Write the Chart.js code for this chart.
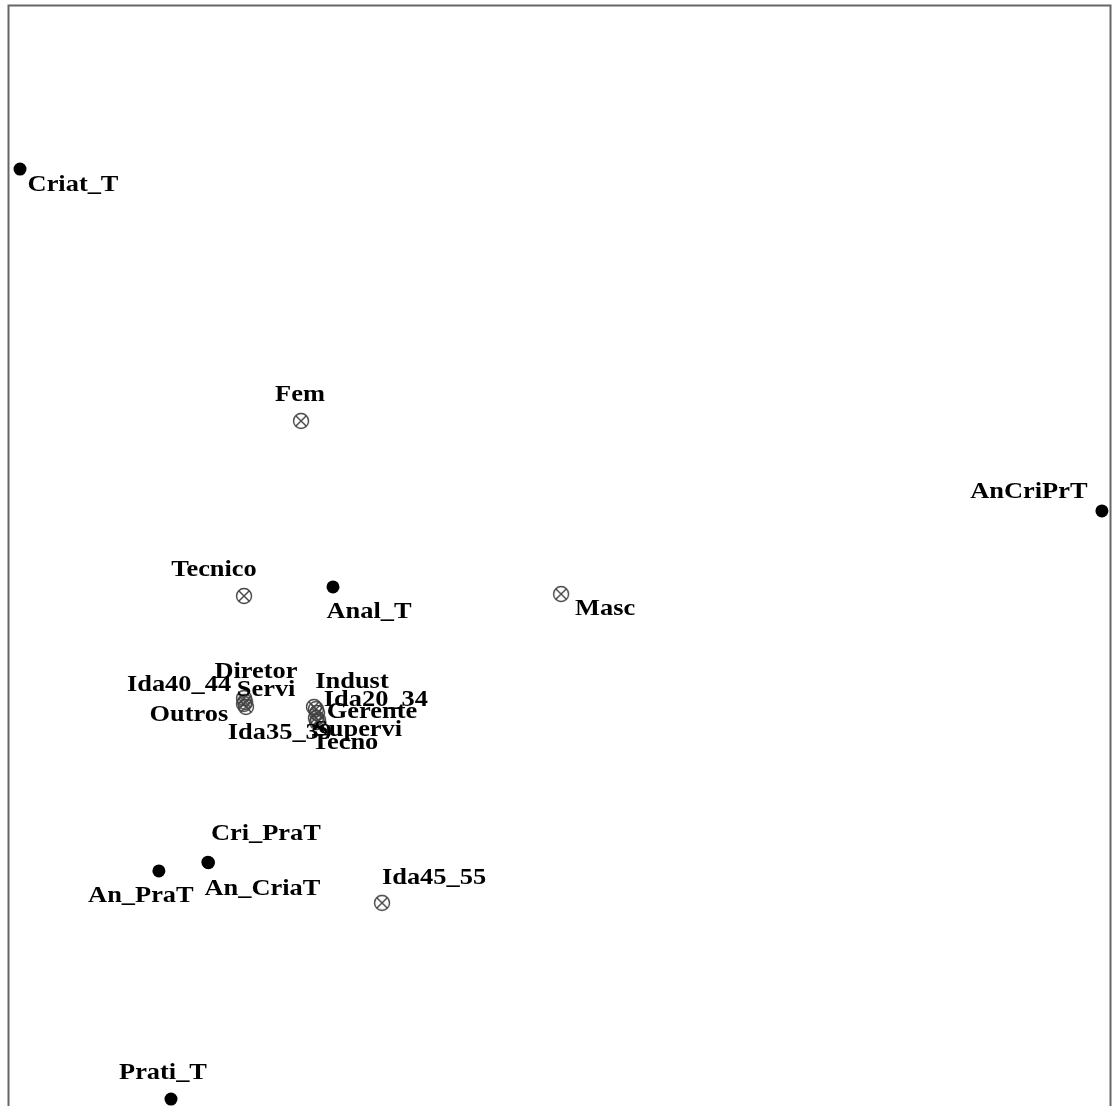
<!DOCTYPE html>
<html>
<head>
<meta charset="utf-8">
<script src="https://cdn.jsdelivr.net/npm/chart.js@4/dist/chart.umd.min.js"></script>
<style>
  html, body { margin: 0; padding: 0; background: #fff; overflow: hidden; }
  canvas { display: block; }
</style>
</head>
<body>
<canvas id="mca" width="1112" height="1106"></canvas>
<script>
// active categories (filled dots)
const actLabels = ["Criat_T", "AnCriPrT", "Anal_T", "Cri_PraT", "An_CriaT", "An_PraT", "Prati_T"];
const actX = [-0.960, 2.967, 0.176, -0.278, -0.276, -0.456, -0.412];
const actY = [2.404, 1.162, 0.886, -0.114, -0.116, -0.146, -0.975];

// supplementary categories (circle with cross)
const supLabels = ["Fem", "Tecnico", "Masc", "Ida45_55", "Diretor", "Servi", "Ida40_44", "Outros",
                   "Indust", "Ida20_34", "Gerente", "Ida35_39", "Supervi", "Tecno"];
const supX = [0.060, -0.147, 1.004, 0.354, -0.147, -0.143, -0.147, -0.140,
              0.107, 0.114, 0.118, 0.114, 0.122, 0.118];
const supY = [1.489, 0.853, 0.860, -0.262, 0.482, 0.468, 0.461, 0.450,
              0.450, 0.442, 0.428, 0.410, 0.402, 0.395];

// label placement (pixel offset of text centre from the point)
const actOffsets = [[53, 16], [-73, -19], [36, 25], [58, -28], [54, 26], [-18, 25], [-8, -26]];
const supOffsets = [[-1, -26], [-30, -26], [44, 15], [52, -25], [12, -26], [21, -12], [-65, -19], [-57, 8],
                    [38, -25], [60, -9], [55, -1], [-36, 15], [40, 10], [28, 21]];

const FONT = "bold 24px 'Liberation Serif', 'Times New Roman', serif";

// circle-with-cross marker
function crossCircle() {
  const c = document.createElement("canvas");
  c.width = 20; c.height = 20;
  const g = c.getContext("2d");
  g.strokeStyle = "#444";
  g.lineWidth = 1.4;
  g.beginPath();
  g.arc(10, 10, 7.5, 0, Math.PI * 2);
  g.stroke();
  const d = 7.5 * Math.SQRT1_2;
  g.beginPath();
  g.moveTo(10 - d, 10 - d); g.lineTo(10 + d, 10 + d);
  g.moveTo(10 + d, 10 - d); g.lineTo(10 - d, 10 + d);
  g.stroke();
  return c;
}

const labelPlugin = {
  id: "pointLabels",
  afterDatasetsDraw(chart) {
    const ctx = chart.ctx;
    ctx.save();
    ctx.font = FONT;
    ctx.fillStyle = "#000";
    ctx.textAlign = "center";
    ctx.textBaseline = "middle";
    chart.data.datasets.forEach((ds, i) => {
      const meta = chart.getDatasetMeta(i);
      meta.data.forEach((el, j) => {
        const off = ds.offsets[j];
        ctx.save();
        ctx.translate(el.x + off[0], el.y + off[1]);
        ctx.scale(1.1, 1);
        ctx.fillText(ds.names[j], 0, 0);
        ctx.restore();
      });
    });
    ctx.restore();
  }
};

const framePlugin = {
  id: "frame",
  afterDraw(chart) {
    const a = chart.chartArea;
    const ctx = chart.ctx;
    ctx.save();
    ctx.strokeStyle = "#666";
    ctx.lineWidth = 2;
    ctx.strokeRect(a.left - 0.5, a.top + 0.5, a.right - a.left, a.bottom - a.top + 10);
    ctx.restore();
  }
};

function draw() {
  new Chart(document.getElementById("mca"), {
    type: "scatter",
    data: {
      datasets: [
        {
          label: "Ativas",
          data: actX.map((x, i) => ({ x: x, y: actY[i] })),
          names: actLabels,
          offsets: actOffsets,
          pointStyle: "circle",
          pointRadius: 6.5,
          backgroundColor: "#000",
          borderColor: "#000",
          borderWidth: 0,
          clip: false
        },
        {
          label: "Suplementares",
          data: supX.map((x, i) => ({ x: x, y: supY[i] })),
          names: supLabels,
          offsets: supOffsets,
          pointStyle: crossCircle(),
          pointRadius: 8,
          clip: false
        }
      ]
    },
    options: {
      responsive: false,
      animation: false,
      events: [],
      layout: { autoPadding: false, padding: { left: 9, top: 5, right: 1, bottom: 0 } },
      scales: {
        x: { type: "linear", min: -1, max: 3, display: false },
        y: { type: "linear", min: -1, max: 3, display: false }
      },
      plugins: {
        legend: { display: false },
        tooltip: { enabled: false }
      }
    },
    plugins: [labelPlugin, framePlugin]
  });
}

if (document.fonts && document.fonts.load) {
  document.fonts.load(FONT).then(draw, draw);
} else {
  draw();
}
</script>
</body>
</html>
